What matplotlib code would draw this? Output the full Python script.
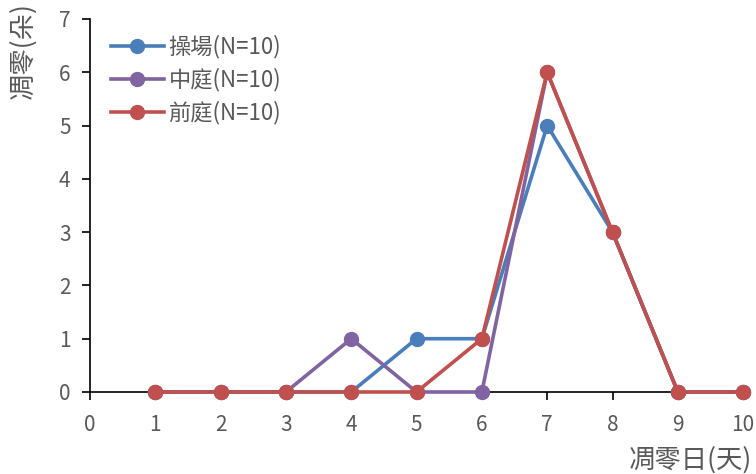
import matplotlib.pyplot as plt

plt.rcParams['font.family'] = ['Noto Sans CJK TC', 'DejaVu Sans']

days = [1, 2, 3, 4, 5, 6, 7, 8, 9, 10]
playground = [0, 0, 0, 0, 1, 1, 5, 3, 0, 0]
courtyard = [0, 0, 0, 1, 0, 0, 6, 3, 0, 0]
front_yard = [0, 0, 0, 0, 0, 1, 6, 3, 0, 0]

series = [
    ("操場(N=10)", playground, "#4A7EBB"),
    ("中庭(N=10)", courtyard, "#8064A2"),
    ("前庭(N=10)", front_yard, "#C0504D"),
]

text_color = "#595959"

fig = plt.figure(figsize=(7.56, 4.74), dpi=100)
ax = fig.add_axes([0.119, 0.173, 0.864, 0.787])

for label, vals, color in series:
    ax.plot(days, vals, color=color, lw=2.6, marker="o", markersize=10,
            label=label, clip_on=False, zorder=3)

ax.set_xlim(0, 10)
ax.set_ylim(0, 7)
ax.set_xticks(range(0, 11))
ax.set_yticks(range(0, 8))
for side in ("top", "right"):
    ax.spines[side].set_visible(False)
for side in ("left", "bottom"):
    ax.spines[side].set_color("black")
    ax.spines[side].set_linewidth(1.2)
ax.tick_params(axis="both", direction="out", length=6, width=1.2,
               labelsize=15, labelcolor=text_color)
ax.tick_params(axis="x", pad=10)
ax.tick_params(axis="y", pad=8)

fig.text(0.03, 0.995, "凋零(朵)", rotation=90, ha="center", va="top",
         fontsize=19, color=text_color)
fig.text(0.995, 0.0, "凋零日(天)", ha="right", va="bottom",
         fontsize=19, color=text_color)

leg = ax.legend(loc="upper left", bbox_to_anchor=(0.013, 0.99), frameon=False,
                fontsize=16, handlelength=2.4, labelspacing=0.42,
                handletextpad=0.2, borderaxespad=0.15)
for t in leg.get_texts():
    t.set_color(text_color)

fig.savefig("out.png", dpi=100)
